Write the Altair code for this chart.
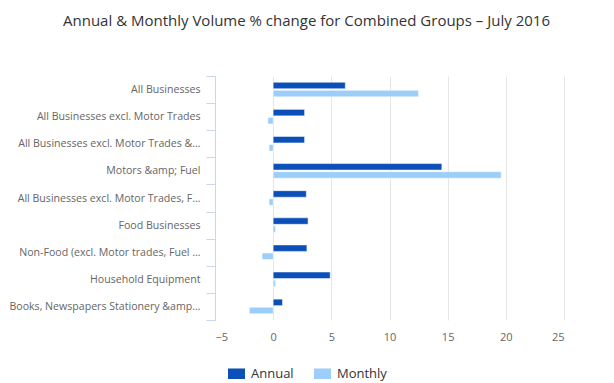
import altair as alt
import pandas as pd

categories = [
    "All Businesses",
    "All Businesses excl. Motor Trades",
    "All Businesses excl. Motor Trades &…",
    "Motors &amp; Fuel",
    "All Businesses excl. Motor Trades, F…",
    "Food Businesses",
    "Non-Food (excl. Motor trades, Fuel …",
    "Household Equipment",
    "Books, Newspapers Stationery &amp…",
]
annual = [6.2, 2.7, 2.7, 14.5, 2.85, 3.0, 2.9, 4.9, 0.8]
monthly = [12.5, -0.45, -0.35, 19.6, -0.35, 0.2, -0.95, 0.2, -2.05]
series = ["Annual", "Monthly"]
colors = ["#0b4fb9", "#9dcdf9"]

rows = []
for c, a, m in zip(categories, annual, monthly):
    rows.append({"category": c, "series": "Annual", "value": a})
    rows.append({"category": c, "series": "Monthly", "value": m})
df = pd.DataFrame(rows)

FONT = "Open Sans"

chart = alt.Chart(df).mark_bar(stroke="white", strokeWidth=0.5).encode(
    y=alt.Y(
        "category:N",
        sort=categories,
        title=None,
        scale=alt.Scale(paddingInner=0, paddingOuter=0),
        axis=alt.Axis(
            tickBand="extent",
            domainColor="#ccd6eb",
            tickColor="#ccd6eb",
            tickSize=9,
            labelPadding=6,
            labelColor="#666666",
            labelFont=FONT,
            labelFontSize=10.6,
            labelLimit=220,
            grid=False,
        ),
    ),
    yOffset=alt.YOffset(
        "series:N",
        sort=series,
        scale=alt.Scale(paddingInner=0.2, paddingOuter=0.77),
    ),
    x=alt.X(
        "value:Q",
        title=None,
        scale=alt.Scale(domain=[-5, 25], nice=False, zero=False),
        axis=alt.Axis(
            values=[-5, 0, 5, 10, 15, 20, 25],
            grid=True,
            gridColor="#e6e6e6",
            domain=False,
            ticks=False,
            labelPadding=11,
            labelColor="#666666",
            labelFont=FONT,
            labelFontSize=11,
        ),
    ),
    color=alt.Color(
        "series:N",
        sort=series,
        scale=alt.Scale(domain=series, range=colors),
        legend=alt.Legend(
            title=None,
            orient="none",
            direction="horizontal",
            legendX=13,
            legendY=289,
            symbolType="M-1,-0.62H1V0.62H-1Z",
            symbolSize=289,
            symbolStrokeWidth=0,
            labelFont=FONT,
            labelFontSize=13,
            labelColor="#333333",
            columnPadding=20,
            labelOffset=6,
        ),
    ),
).properties(
    width=349,
    height=244,
    padding={"left": 207, "top": 68, "right": 30, "bottom": 63},
    autosize=alt.AutoSizeParams(type="none"),
    title=alt.TitleParams(
        "Annual & Monthly Volume % change for Combined Groups – July 2016",
        font=FONT,
        fontSize=15,
        fontWeight="normal",
        color="#333333",
        anchor="middle",
        dx=-83,
        offset=42,
    ),
).configure_view(stroke=None)

chart.save("out.html", embed_options={"renderer": "svg", "actions": False})
